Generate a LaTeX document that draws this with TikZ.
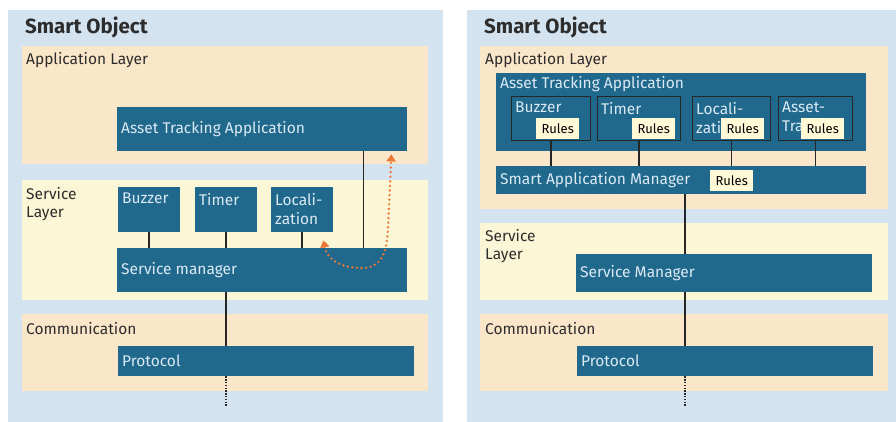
\documentclass[tikz,border=0pt]{standalone}
\usepackage{fontspec}
\setmainfont{Fira Sans}
\usepackage{xcolor}
\definecolor{soblue}{RGB}{212,227,240}
\definecolor{sopeach}{RGB}{250,230,201}
\definecolor{socream}{RGB}{251,246,214}
\definecolor{soteal}{RGB}{33,105,140}
\definecolor{sotext}{RGB}{218,233,244}
\definecolor{sorules}{RGB}{255,249,216}
\definecolor{sogray}{RGB}{45,45,45}
\definecolor{soorange}{RGB}{236,118,52}
\usepackage{tikz}
\usetikzlibrary{arrows.meta, positioning, calc}

\newcommand{\titlefont}{\fontsize{20.5}{24}\selectfont\bfseries}
\newcommand{\layerfont}{\fontsize{15.5}{18}\selectfont}
\newcommand{\boxfont}{\fontsize{15.5}{19}\selectfont}
\newcommand{\rulesfont}{\fontsize{13}{15}\selectfont}

\begin{document}
\begin{tikzpicture}[x=1pt, y=-1pt,
  tealbox/.style={fill=soteal, anchor=north west, inner sep=0pt},
  innerbox/.style={tealbox, draw=black!85, line width=1pt},
  rulesbox/.style={fill=sorules, anchor=north west, inner sep=0pt, text=black, font=\rulesfont},
  boxlbl/.style={font=\boxfont, text=sotext, align=left, inner sep=4pt},
  midlbl/.style={label={[boxlbl, anchor=west]west:#1}},
  toplbl/.style={label={[boxlbl, anchor=north west, inner ysep=6pt]north west:#1}},
  layerlbl/.style={font=\layerfont, text=sogray, anchor=west, align=left, inner sep=0pt},
  title/.style={font=\titlefont, text=sogray, anchor=west, inner sep=0pt},
  wire/.style={line width=1.5pt, black!85},
  netdots/.style={line width=1.8pt, black!85, dash pattern=on 1.4pt off 1.4pt},
  trackarrow/.style={soorange, line width=2.6pt, line cap=round, dash pattern=on 0pt off 4.6pt,
    {Triangle[width=9pt,length=7pt]}-{Triangle[width=9pt,length=7pt]}}]
\fill[white] (0,0) rectangle (896,422);
\useasboundingbox (0,0) rectangle (896,422);

% left panel
\begin{scope}
\fill[soblue] (8,10) rectangle (443,422);
\fill[sopeach] (22,46) rectangle (428,164);
\fill[socream] (22,180) rectangle (428,300);
\fill[sopeach] (22,314) rectangle (428,391);

\node[title] (ltitle) at (25,27) {Smart Object};
\node[layerlbl] (lapplayer) at (26,60) {Application Layer};
\node[layerlbl] (lsrvlayer) at (26,204) {Service\\Layer};
\node[layerlbl] (lcomlayer) at (26,329) {Communication};

\node[tealbox, minimum width=290, minimum height=44, midlbl=Asset Tracking Application] (lapp) at (117,107) {};
\foreach \nm/\xx/\txt in {lbuz/118/Buzzer, ltim/195/Timer, lloc/271/{Locali-\\zation}}
  \node[tealbox, minimum width=62, minimum height=45, toplbl=\txt] (\nm) at (\xx,187) {};
\node[tealbox, minimum width=290, minimum height=44, midlbl=Service manager] (lsm) at (117,248) {};
\node[tealbox, minimum width=296, minimum height=30, midlbl=Protocol] (lpro) at (118,346) {};

\foreach \nm in {lbuz, ltim, lloc}
  \draw[wire] (\nm.south) -- (\nm.south |- lsm.north);
\draw[wire] ([xshift=-44]lapp.south east) -- ([xshift=-44]lapp.south east |- lsm.north);
\draw[wire] (ltim.south |- lsm.south) -- (ltim.south |- lpro.north);
\draw[netdots] (ltim.south |- lpro.south) -- (ltim.south |- 0,406);

% tracking loop
\draw[trackarrow] ([shift={(-10,8)}]lloc.south east) .. controls (327,258) and (338,268) .. (362,268)
  .. controls (380,268) and (387,255) .. (388,228) -- ([shift={(-16,3)}]lapp.south east);
\end{scope}

% right panel
\begin{scope}
\fill[soblue] (467,10) rectangle (896,422);
\fill[sopeach] (480,46) rectangle (888,209);
\fill[socream] (480,223) rectangle (888,300);
\fill[sopeach] (480,314) rectangle (888,391);

\node[title] (rtitle) at (484,27) {Smart Object};
\node[layerlbl] (rapplayer) at (485,60) {Application Layer};
\node[layerlbl] (rsrvlayer) at (485,246) {Service\\Layer};
\node[layerlbl] (rcomlayer) at (485,329) {Communication};

\node[tealbox, minimum width=370, minimum height=78,
  label={[boxlbl, anchor=north west, inner ysep=3pt]north west:Asset Tracking Application}] (rapp) at (496,73) {};
\node[tealbox, minimum width=370, minimum height=28, midlbl=Smart Application Manager] (rsam) at (496,166) {};
\node[rulesbox, minimum width=43, minimum height=21] (rsamr) at (710,170) {Rules};

\foreach \nm/\xx/\w/\rx/\txt in {rbuz/511/79/536/Buzzer, rtim/597/83/632/Timer,
    rloc/692/78/721/{Locali-\\zation}, rast/778/74/801/{Asset-\\Tracking}}
{
  \node[innerbox, minimum width=\w, minimum height=44, toplbl=\txt] (\nm) at (\xx,96) {};
  \node[rulesbox, minimum width=43, minimum height=21] (\nm r) at (\rx,118) {Rules};
  \draw[wire] (\nm.south) -- (\nm.south |- rsam.north);
}

\node[tealbox, minimum width=296, minimum height=38, midlbl=Service Manager] (rsm) at (576,254) {};
\node[tealbox, minimum width=296, minimum height=30, midlbl=Protocol] (rpro) at (577,346) {};

\draw[wire] ([xshift=4]rsam.south) -- ([xshift=4]rsam.south |- rsm.north);
\draw[wire] ([xshift=4]rsam.south |- rsm.south) -- ([xshift=4]rsam.south |- rpro.north);
\draw[netdots] ([xshift=4]rsam.south |- rpro.south) -- ([xshift=4]rsam.south |- 0,406);
\end{scope}
\end{tikzpicture}
\end{document}
